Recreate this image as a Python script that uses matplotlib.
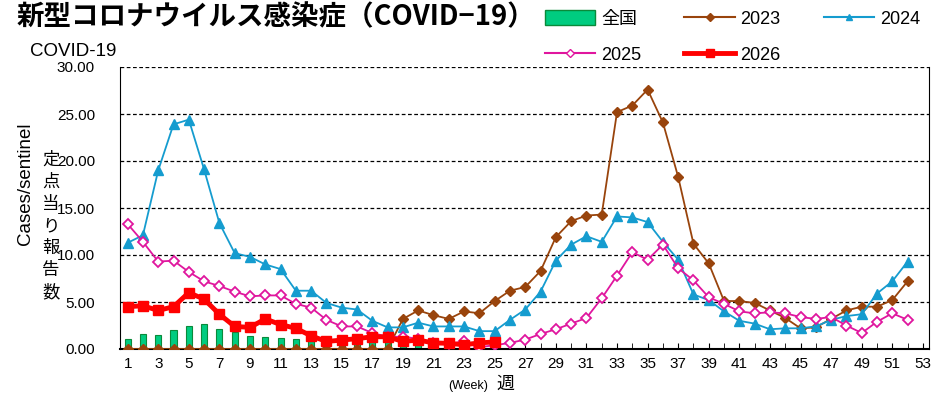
import matplotlib
matplotlib.use('Agg')
import matplotlib.pyplot as plt
from matplotlib.lines import Line2D
from matplotlib.patches import Patch

plt.rcParams['font.family'] = ['Liberation Sans', 'Noto Sans CJK JP', 'DejaVu Sans']

weeks = list(range(1, 54))

# 全国 (bars), weeks 1-25
zenkoku = [1.1, 1.6, 1.5, 2.0, 2.5, 2.7, 2.1, 1.8, 1.4, 1.3, 1.2, 1.1, 1.0,
           0.7, 0.55, 0.65, 0.8, 0.8, 0.35, 0.45, 0.4, 0.35, 0.3, 0.35, 0.35]

y2023 = [0, 0, 0, 0, 0, 0, 0, 0, 0, 0, 0, 0, 0, 0, 0, 0, 0, 0,
         3.2, 4.1, 3.6, 3.2, 4.0, 3.8, 5.1, 6.2, 6.6, 8.3, 11.9, 13.6,
         14.2, 14.3, 25.2, 25.9, 27.6, 24.1, 18.3, 11.2, 9.1, 5.1, 5.1, 4.9,
         4.1, 3.3, 2.2, 2.3, 3.2, 4.1, 4.5, 4.5, 5.2, 7.2]

y2024 = [11.3, 12.1, 19.0, 23.9, 24.4, 19.1, 13.4, 10.2, 9.8, 9.0, 8.5, 6.2,
         6.2, 4.9, 4.4, 4.2, 3.0, 2.3, 2.3, 2.8, 2.4, 2.4, 2.4, 1.9, 1.9,
         3.1, 4.2, 6.1, 9.4, 11.1, 12.0, 11.4, 14.1, 14.0, 13.5, 11.4, 9.5,
         5.8, 5.2, 4.0, 3.0, 2.7, 2.1, 2.2, 2.2, 2.4, 3.1, 3.5, 3.7, 5.9,
         7.2, 9.3]

y2025 = [13.3, 11.4, 9.3, 9.4, 8.2, 7.2, 6.7, 6.1, 5.6, 5.7, 5.7, 4.8, 4.4,
         3.1, 2.4, 2.4, 1.7, 1.3, 1.3, 1.1, 0.6, 0.5, 0.85, 0.2, 0.4,
         0.65, 1.0, 1.6, 2.1, 2.7, 3.3, 5.4, 7.8, 10.3, 9.5, 11.1, 8.6,
         7.3, 5.5, 4.8, 4.0, 3.8, 3.9, 3.8, 3.4, 3.2, 3.4, 2.5, 1.7, 2.9,
         3.8, 3.1]

y2026 = [4.5, 4.6, 4.1, 4.5, 6.0, 5.3, 3.7, 2.4, 2.3, 3.2, 2.6, 2.2, 1.4,
         0.8, 0.95, 1.1, 1.3, 1.3, 0.8, 0.95, 0.65, 0.6, 0.45, 0.65, 0.75]

fig = plt.figure(figsize=(9.44, 4.0), dpi=100)
ax = fig.add_axes([0.1271, 0.1275, 0.857, 0.705])

ax.bar(weeks[:len(zenkoku)], zenkoku, width=0.4, color='#00cc80',
       edgecolor='#0a8a3a', linewidth=0.8, zorder=2)
ax.plot(weeks[:len(y2023)], y2023, color='#99440c', lw=1.3, marker='D',
        ms=5, zorder=3)
ax.plot(weeks[:len(y2024)], y2024, color='#159ccf', lw=1.3, marker='^',
        ms=7, zorder=3)
ax.plot(weeks[:len(y2025)], y2025, color='#e0169e', lw=1.3, marker='D',
        ms=5.5, mfc='white', mew=1.3, zorder=4)
ax.plot(weeks[:len(y2026)], y2026, color='#ff0000', lw=3.5, marker='s',
        ms=7, zorder=5)

ax.set_xlim(0.5, 53.4)
ax.set_ylim(0, 30)
ax.set_yticks([0, 5, 10, 15, 20, 25, 30])
ax.set_yticklabels(['%.2f' % v for v in [0, 5, 10, 15, 20, 25, 30]], fontsize=11)
ax.set_xticks(weeks, minor=True)
ax.set_xticks(range(1, 54, 2))
ax.set_xticklabels([str(w) for w in range(1, 54, 2)], fontsize=11)
ax.tick_params(axis='x', which='both', direction='in', length=4, pad=6)
ax.tick_params(axis='y', length=0, pad=18)
for v in [5, 10, 15, 20, 25, 30]:
    ax.axhline(v, color='black', lw=0.9, ls=(0, (3, 2)), zorder=1)
ax.spines['top'].set_visible(False)
ax.spines['bottom'].set_linewidth(1.5)

fig.text(0.018, 0.958, '新型コロナウイルス感染症（COVID−19）', fontsize=19.8,
         fontweight='bold', va='center', ha='left',
         family=['Noto Sans CJK JP'])
fig.text(0.032, 0.872, 'COVID-19', fontsize=13.5, va='center', ha='left')
fig.text(0.027, 0.54, 'Cases/sentinel', fontsize=13.5, rotation=90,
         va='center', ha='center')
fig.text(0.054, 0.435, '\n'.join('定点当り報告数'), fontsize=12.5,
         va='center', ha='center', linespacing=1.3,
         family=['Noto Sans CJK JP'])
fig.text(0.496, 0.035, '(Week)', fontsize=9, va='center', ha='center')
fig.text(0.535, 0.04, '週', fontsize=13, va='center', ha='center',
         family=['Noto Sans CJK JP'])

handles = [
    Patch(facecolor='#00cc80', edgecolor='#0a8a3a'),
    Line2D([], [], color='#e0169e', marker='D', ms=4, mfc='white'),
    Line2D([], [], color='#99440c', marker='D', ms=4),
    Line2D([], [], color='#ff0000', marker='s', ms=6, lw=3.5),
    Line2D([], [], color='#159ccf', marker='^', ms=5),
]
labels = ['全国', '2025', '2023', '2026', '2024']
fig.legend(handles, labels, ncol=3, loc='upper left',
           bbox_to_anchor=(0.56, 1.015), frameon=False, fontsize=13,
           handlelength=2.8, handleheight=0.9, labelspacing=1.0,
           columnspacing=2.4, handletextpad=0.3)

plt.savefig('out.png', dpi=100)
